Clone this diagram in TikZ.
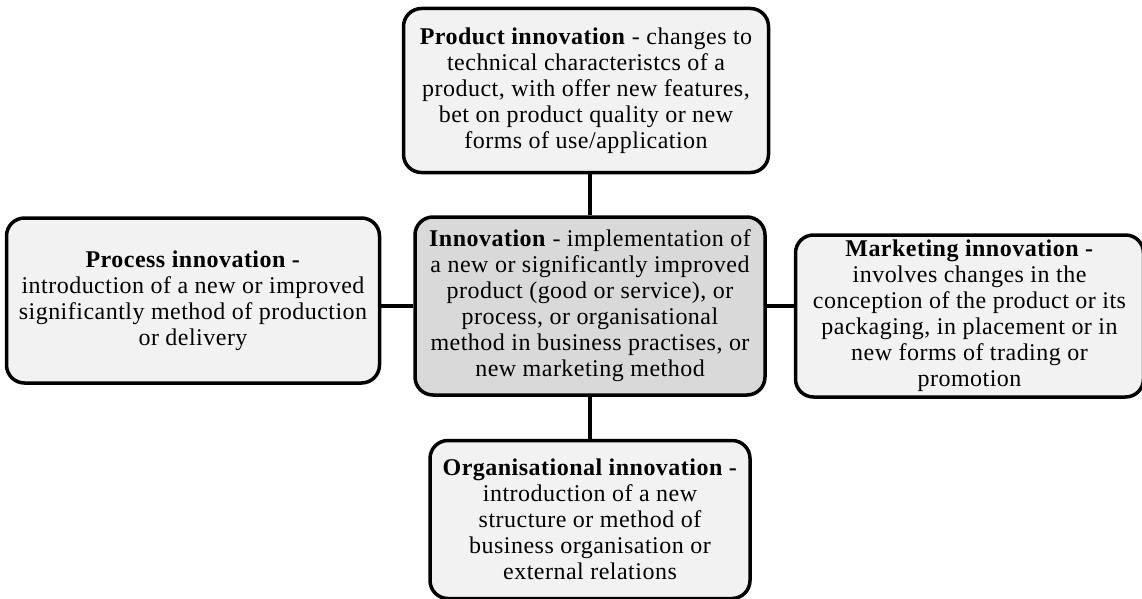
\documentclass[tikz,border=0pt]{standalone}
\usepackage{fontspec}
\setmainfont{Liberation Serif}
\usetikzlibrary{positioning}
\definecolor{boxGray}{HTML}{F2F2F2}
\definecolor{coreGray}{HTML}{D9D9D9}

\begin{document}
\begin{tikzpicture}[x=1pt, y=-1pt,
        kind/.style={draw=black, line width=3.5pt, rounded corners=18pt, fill=boxGray,
                     align=center, inner sep=0pt,
                     font=\fontsize{24}{26}\selectfont\addfontfeature{LetterSpace=2}},
        core/.style={kind, fill=coreGray},
        link/.style={draw=black, line width=3.5pt}
    ]
        \useasboundingbox (0,0) rectangle (1142,599);

        \node[core, minimum width=350pt, minimum height=178pt] (inn) at (590,306)
            {\textbf{Innovation} - implementation of\\a new or significantly improved\\product (good or service),  or\\process, or organisational\\method in business practises, or\\new marketing method};

        \node[kind, minimum width=365pt, minimum height=164pt, above=41pt of inn, xshift=-4pt] (prod)
            {\textbf{Product innovation} -  changes to\\technical characteristcs of a\\product, with offer new features,\\bet  on product quality or new\\forms of use/application};
        \node[kind, minimum width=373pt, minimum height=165pt, left=32pt of inn, yshift=5.5pt] (proc)
            {\textbf{Process  innovation -}\\introduction of a new or improved\\significantly method of production\\or delivery};
        \node[kind, minimum width=348pt, minimum height=162pt, right=27pt of inn, yshift=-10pt] (mark)
            {\textbf{Marketing innovation -}\\involves  changes in the\\conception of the product  or its\\packaging, in placement or in\\new forms of trading or\\promotion};
        \node[kind, minimum width=320pt, minimum height=158pt, below=42pt of inn] (org)
            {\textbf{Organisational innovation -}\\introduction of a new\\structure or method of\\business organisation or\\external relations};

        \draw[link] (inn.north) -- (inn.north |- prod.south);
        \draw[link] (inn.south) -- (org.north);
        \draw[link] (inn.west) -- (inn.west -| proc.east);
        \draw[link] (inn.east) -- (inn.east -| mark.west);
    \end{tikzpicture}
\end{document}
